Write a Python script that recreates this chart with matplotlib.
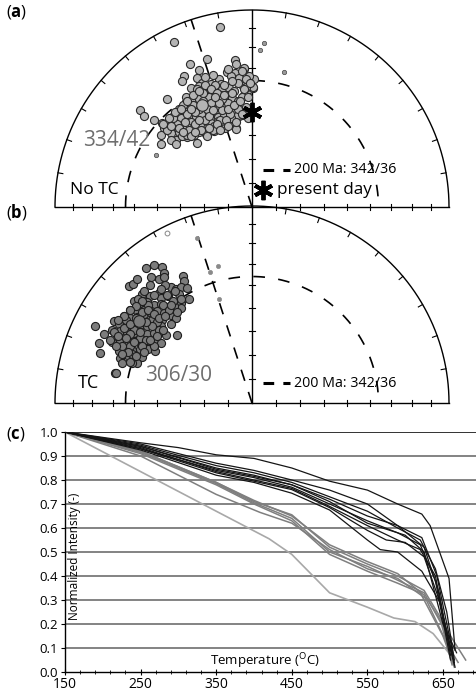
import numpy as np
import matplotlib
matplotlib.use("Agg")
import matplotlib.pyplot as plt

plt.rcParams['font.family'] = ['Open Sans', 'DejaVu Sans']
plt.rcParams['mathtext.fontset'] = 'custom'
plt.rcParams['mathtext.rm'] = 'Open Sans'
plt.rcParams['mathtext.bf'] = 'Open Sans:bold'

# (a) no tilt correction: directions in equal-area net coordinates (east, north), net radius 1
a_x = [-0.162, -0.396, -0.230, -0.316, -0.269, -0.087, -0.082, -0.043, -0.128, -0.087,
       -0.345, -0.354, -0.281, -0.167, -0.107, -0.065, -0.014, 0.012, -0.158, -0.209,
       -0.252, -0.311, -0.269, -0.226, -0.192, -0.150, -0.116, -0.090, -0.048, -0.014,
       0.003, -0.277, -0.243, -0.201, -0.158, -0.124, -0.430, -0.337, -0.303, -0.269,
       -0.235, -0.201, -0.167, -0.133, -0.099, -0.073, -0.345, -0.311, -0.209, -0.175,
       -0.141, -0.107, -0.082, -0.566, -0.549, -0.498, -0.371, -0.337, -0.303, -0.269,
       -0.235, -0.201, -0.158, -0.124, -0.090, -0.065, -0.396, -0.362, -0.320, -0.286,
       -0.243, -0.209, -0.175, -0.141, -0.107, -0.456, -0.422, -0.388, -0.345, -0.311,
       -0.277, -0.243, -0.209, -0.175, -0.141, -0.447, -0.413, -0.371, -0.328, -0.294,
       -0.260, -0.226, -0.192, -0.082, -0.464, -0.413, -0.371, -0.337, -0.303, -0.269,
       -0.235, -0.388, -0.328, -0.461, -0.413, -0.388, -0.354, -0.328, -0.294, -0.277,
       -0.231, -0.192, -0.138, -0.083, -0.044, -0.073, -0.107, -0.019, -0.026, 0.007,
       -0.014, -0.039, -0.031, -0.031, -0.042, -0.042,
       -0.22, -0.18, -0.26, -0.30, -0.15, -0.24, -0.32, -0.20, -0.36, -0.12,
       -0.28, -0.19, -0.05, -0.03, -0.02, -0.10, -0.14, -0.21, -0.27, -0.33,
       -0.38, -0.43, -0.16, -0.11, -0.07, -0.25, -0.35, -0.40, -0.29, -0.22,
       -0.45, -0.42, -0.39, -0.36, -0.33, -0.30, -0.27, -0.24, -0.21, -0.18,
       -0.15, -0.12, -0.09, -0.06, -0.04, -0.07, -0.10, -0.17, -0.23, -0.29,
       -0.34, -0.37, -0.41, -0.31, -0.26, -0.18, -0.13, -0.08, -0.05, -0.22,
       -0.27, -0.20, -0.25, -0.31, -0.14, -0.19, -0.35, -0.29, -0.23, -0.16,
       -0.12, -0.02, -0.01, -0.05, -0.12, -0.20, -0.24]
a_y = [0.912, 0.838, 0.753, 0.724, 0.696, 0.747, 0.724, 0.702, 0.685, 0.682,
       0.665, 0.639, 0.656, 0.648, 0.665, 0.656, 0.648, 0.651, 0.622, 0.622,
       0.631, 0.605, 0.614, 0.605, 0.597, 0.597, 0.605, 0.588, 0.614, 0.597,
       0.605, 0.580, 0.577, 0.580, 0.571, 0.571, 0.546, 0.560, 0.546, 0.549,
       0.537, 0.546, 0.537, 0.546, 0.554, 0.537, 0.520, 0.515, 0.515, 0.515,
       0.512, 0.509, 0.509, 0.491, 0.461, 0.444, 0.498, 0.491, 0.486, 0.486,
       0.486, 0.478, 0.481, 0.486, 0.478, 0.461, 0.469, 0.464, 0.461, 0.457,
       0.461, 0.452, 0.457, 0.461, 0.452, 0.427, 0.435, 0.435, 0.435, 0.430,
       0.427, 0.435, 0.427, 0.435, 0.423, 0.401, 0.406, 0.410, 0.406, 0.401,
       0.413, 0.401, 0.410, 0.401, 0.367, 0.376, 0.379, 0.376, 0.367, 0.379,
       0.372, 0.342, 0.355, 0.320, 0.342, 0.321, 0.359, 0.367, 0.367, 0.325,
       0.381, 0.384, 0.401, 0.396, 0.469, 0.469, 0.452, 0.648, 0.611, 0.611,
       0.665, 0.704, 0.648, 0.611, 0.571, 0.474,
       0.56, 0.50, 0.47, 0.52, 0.49, 0.44, 0.39, 0.39, 0.45, 0.53,
       0.60, 0.62, 0.56, 0.51, 0.45, 0.58, 0.62, 0.53, 0.50, 0.47,
       0.42, 0.39, 0.44, 0.47, 0.50, 0.58, 0.52, 0.45, 0.42, 0.40,
       0.42, 0.45, 0.48, 0.50, 0.54, 0.57, 0.59, 0.62, 0.60, 0.58,
       0.55, 0.50, 0.52, 0.54, 0.60, 0.63, 0.64, 0.53, 0.50, 0.48,
       0.43, 0.40, 0.41, 0.36, 0.39, 0.42, 0.44, 0.43, 0.47, 0.46,
       0.44, 0.49, 0.54, 0.50, 0.57, 0.56, 0.38, 0.38, 0.36, 0.39,
       0.41, 0.56, 0.63, 0.69, 0.70, 0.67, 0.66]
a_small_x = [0.060, 0.041, 0.162, -0.485]
a_small_y = [0.832, 0.798, 0.687, 0.265]

# (b) tilt corrected
b_x = [-0.536, -0.498, -0.456, -0.447, -0.515, -0.473, -0.447, -0.626, -0.604, -0.583,
       -0.349, -0.345, -0.413, -0.388, -0.362, -0.332, -0.558, -0.519, -0.473, -0.464,
       -0.427, -0.371, -0.320, -0.362, -0.362, -0.600, -0.566, -0.532, -0.498, -0.464,
       -0.430, -0.396, -0.617, -0.583, -0.549, -0.515, -0.481, -0.447, -0.413, -0.388,
       -0.651, -0.617, -0.583, -0.558, -0.524, -0.490, -0.456, -0.702, -0.676, -0.634,
       -0.600, -0.566, -0.532, -0.498, -0.464, -0.796, -0.711, -0.668, -0.634, -0.600,
       -0.566, -0.532, -0.498, -0.439, -0.379, -0.753, -0.779, -0.711, -0.668, -0.634,
       -0.592, -0.558, -0.524, -0.481, -0.464, -0.770, -0.677, -0.643, -0.609, -0.566,
       -0.529, -0.490, -0.668, -0.626, -0.592, -0.558, -0.660, -0.583, -0.694, -0.617,
       -0.689, -0.609,
       -0.55, -0.51, -0.60, -0.53, -0.45, -0.57, -0.50, -0.62, -0.48, -0.42,
       -0.40, -0.55, -0.44, -0.64, -0.66, -0.58, -0.52, -0.47, -0.61, -0.54,
       -0.70, -0.68, -0.65, -0.62, -0.59, -0.56, -0.53, -0.50, -0.47, -0.44,
       -0.41, -0.43, -0.46, -0.50, -0.52, -0.56, -0.59, -0.62, -0.65, -0.68,
       -0.72, -0.69, -0.64, -0.60, -0.56, -0.52, -0.48, -0.45, -0.41, -0.38,
       -0.36, -0.39, -0.63, -0.59, -0.55, -0.66, -0.62, -0.57, -0.51, -0.54]
b_y = [0.687, 0.701, 0.690, 0.662, 0.641, 0.628, 0.639, 0.594, 0.605, 0.628,
       0.645, 0.619, 0.588, 0.577, 0.588, 0.585, 0.554, 0.543, 0.560, 0.534,
       0.543, 0.554, 0.526, 0.509, 0.483, 0.517, 0.509, 0.514, 0.500, 0.503,
       0.486, 0.491, 0.474, 0.469, 0.474, 0.466, 0.466, 0.457, 0.449, 0.432,
       0.440, 0.432, 0.435, 0.423, 0.429, 0.432, 0.423, 0.415, 0.401, 0.398,
       0.401, 0.398, 0.389, 0.395, 0.389, 0.389, 0.372, 0.364, 0.361, 0.355,
       0.361, 0.350, 0.355, 0.347, 0.344, 0.350, 0.304, 0.310, 0.321, 0.313,
       0.316, 0.310, 0.313, 0.316, 0.304, 0.253, 0.265, 0.276, 0.270, 0.276,
       0.276, 0.265, 0.228, 0.236, 0.241, 0.236, 0.202, 0.202, 0.151, 0.291,
       0.152, 0.202,
       0.45, 0.42, 0.37, 0.50, 0.50, 0.33, 0.29, 0.35, 0.41, 0.47,
       0.52, 0.57, 0.60, 0.42, 0.29, 0.53, 0.46, 0.37, 0.25, 0.32,
       0.36, 0.34, 0.38, 0.40, 0.43, 0.46, 0.47, 0.45, 0.43, 0.44,
       0.50, 0.55, 0.58, 0.55, 0.60, 0.52, 0.49, 0.47, 0.44, 0.42,
       0.32, 0.29, 0.33, 0.31, 0.29, 0.32, 0.34, 0.37, 0.40, 0.46,
       0.53, 0.57, 0.26, 0.24, 0.26, 0.25, 0.21, 0.36, 0.39, 0.41]
b_small_x = [-0.277, -0.175, -0.214, -0.167]
b_small_y = [0.840, 0.695, 0.665, 0.529]
b_open_x = [-0.430]
b_open_y = [0.862]

means = {'a': (334, 42), 'b': (306, 30)}
ref_dec, ref_inc = 342, 36      # 200 Ma reference
now_dec, now_inc = 0, 50        # present day field

# (c) normalized intensity vs temperature
black_T = [[150, 250, 300, 350, 400, 450, 500, 550, 590, 622, 633, 658, 666],
           [150, 250, 350, 400, 450, 500, 550, 590, 622, 642, 663],
           [150, 250, 350, 400, 450, 500, 550, 590, 620, 640, 655, 665],
           [150, 250, 350, 400, 450, 500, 550, 590, 625, 645, 660],
           [150, 250, 350, 400, 450, 500, 550, 590, 620, 640, 660],
           [150, 250, 350, 400, 450, 500, 550, 590, 620, 640, 655, 665],
           [150, 250, 350, 400, 450, 500, 550, 575, 600, 625, 645, 665],
           [150, 250, 350, 400, 450, 500, 550, 567, 590, 622, 646, 666],
           [150, 250, 350, 400, 450, 500, 550, 600, 625, 650, 668]]
black_v = [[1.0, 0.955, 0.935, 0.905, 0.89, 0.85, 0.795, 0.758, 0.70, 0.658, 0.61, 0.39, 0.09],
           [1.0, 0.95, 0.87, 0.84, 0.80, 0.758, 0.70, 0.61, 0.56, 0.40, 0.08],
           [1.0, 0.945, 0.86, 0.83, 0.79, 0.73, 0.67, 0.60, 0.55, 0.43, 0.25, 0.05],
           [1.0, 0.94, 0.85, 0.82, 0.78, 0.72, 0.65, 0.61, 0.52, 0.33, 0.07],
           [1.0, 0.93, 0.84, 0.81, 0.77, 0.70, 0.63, 0.58, 0.53, 0.38, 0.05],
           [1.0, 0.935, 0.835, 0.80, 0.765, 0.69, 0.61, 0.55, 0.51, 0.40, 0.15, 0.03],
           [1.0, 0.93, 0.83, 0.795, 0.76, 0.685, 0.59, 0.55, 0.54, 0.48, 0.30, 0.04],
           [1.0, 0.925, 0.82, 0.79, 0.745, 0.675, 0.55, 0.51, 0.50, 0.42, 0.29, 0.02],
           [1.0, 0.94, 0.845, 0.815, 0.78, 0.71, 0.62, 0.57, 0.50, 0.20, 0.08]]
grey_T = [[150, 250, 350, 400, 450, 500, 550, 590, 625, 648, 660],
          [150, 250, 350, 400, 450, 500, 550, 585, 625, 648, 662],
          [150, 250, 350, 400, 450, 500, 550, 590, 620, 650, 665],
          [150, 250, 350, 400, 450, 500, 550, 590, 625, 655, 670],
          [150, 250, 350, 408, 450, 500, 550, 590, 630, 660, 680]]
grey_v = [[1.0, 0.92, 0.79, 0.71, 0.655, 0.52, 0.45, 0.40, 0.34, 0.22, 0.06],
          [1.0, 0.915, 0.785, 0.705, 0.64, 0.50, 0.44, 0.39, 0.33, 0.20, 0.03],
          [1.0, 0.91, 0.78, 0.70, 0.63, 0.49, 0.42, 0.37, 0.33, 0.15, 0.02],
          [1.0, 0.92, 0.79, 0.715, 0.65, 0.53, 0.46, 0.41, 0.32, 0.12, 0.04],
          [1.0, 0.90, 0.74, 0.665, 0.62, 0.51, 0.43, 0.39, 0.30, 0.15, 0.05]]
light_T = [150, 250, 350, 420, 450, 500, 550, 585, 613, 637, 655, 665]
light_v = [1.0, 0.835, 0.67, 0.555, 0.49, 0.33, 0.27, 0.225, 0.21, 0.16, 0.09, 0.05]


def equal_area(dec, inc):
    r = np.sqrt(2) * np.sin(np.radians(90 - np.asarray(inc, float)) / 2)
    d = np.radians(dec)
    return r * np.sin(d), r * np.cos(d)


def draw_net(ax):
    t = np.linspace(0, np.pi, 300)
    ax.plot(np.cos(t), np.sin(t), color='k', lw=1, clip_on=False)
    ax.plot([-1, 1], [0, 0], color='k', lw=1, clip_on=False)
    ax.plot([0, 0], [0, 1], color='k', lw=1, clip_on=False)
    tl = 0.016
    for r in equal_area(0, np.arange(10, 90, 10))[1]:
        ax.plot([r, r], [-tl, tl], color='k', lw=0.8, clip_on=False)
        ax.plot([-r, -r], [-tl, tl], color='k', lw=0.8, clip_on=False)
        ax.plot([-tl, tl], [r, r], color='k', lw=0.8, clip_on=False)
    for d in range(-80, 90, 10):
        if d == 0:
            continue
        s, c = np.sin(np.radians(d)), np.cos(np.radians(d))
        ax.plot([s, 0.975 * s], [c, 0.975 * c], color='k', lw=0.8, clip_on=False)
    # 200 Ma reference: inclination circle and declination line
    dd = np.linspace(-90, 90, 300)
    cx, cy = equal_area(dd, ref_inc)
    ax.plot(cx, cy, color='k', lw=1.2, ls=(0, (7, 8)), clip_on=False)
    ex, ey = equal_area(ref_dec, 0)
    ax.plot([0, ex], [0, ey], color='k', lw=1.2, ls=(0, (7, 7)), clip_on=False)
    ax.set_xlim(-1, 1)
    ax.set_ylim(0, 1)
    ax.set_aspect('auto')
    ax.axis('off')


fig = plt.figure(figsize=(4.77, 6.92), dpi=100)
W, H = 477, 692
R = 197

ax_a = fig.add_axes([(252 - R) / W, (H - 207) / H, 2 * R / W, R / H])
draw_net(ax_a)
ax_a.scatter(a_x, a_y, s=34, c='#b4b4b4', edgecolors='#2a2a2a', linewidths=0.8, zorder=3)
ax_a.scatter(a_small_x, a_small_y, s=10, c='#9a9a9a', edgecolors='#444444', linewidths=0.5, zorder=3)
mx, my = equal_area(*means['a'])
ax_a.scatter([mx], [my], s=70, c='#b4b4b4', edgecolors='#2a2a2a', linewidths=0.8, zorder=4)
px, py = equal_area(now_dec, now_inc)
ax_a.plot([px], [py], marker=(6, 2, 0), ms=14, mew=2.8, color='k', zorder=5)
ax_a.text(-0.86, 0.34, '334/42', fontsize=15, color='#6e6e6e', va='center', zorder=6)
ax_a.text(-0.925, 0.086, 'No TC', fontsize=12.5, color='k', va='center')
ax_a.plot([0.056, 0.193], [0.188, 0.188], color='k', lw=2.2, ls=(0, (3.5, 3)), clip_on=False)
ax_a.text(0.215, 0.188, '200 Ma: 342/36', fontsize=10.3, va='center')
ax_a.plot([0.056], [0.086], marker=(6, 2, 0), ms=14, mew=2.8, color='k', clip_on=False)
ax_a.text(0.128, 0.086, 'present day', fontsize=12.3, va='center')

ax_b = fig.add_axes([(252 - R) / W, (H - 403) / H, 2 * R / W, R / H])
draw_net(ax_b)
ax_b.scatter(b_x, b_y, s=34, c='#7c7c7c', edgecolors='#1e1e1e', linewidths=0.8, zorder=3)
ax_b.scatter(b_small_x, b_small_y, s=9, c='#8a8a8a', edgecolors='#8a8a8a', linewidths=0.5, zorder=3)
ax_b.scatter(b_open_x, b_open_y, s=12, c='white', edgecolors='#888888', linewidths=0.7, zorder=3)
mx, my = equal_area(*means['b'])
ax_b.scatter([mx], [my], s=70, c='#7c7c7c', edgecolors='#1e1e1e', linewidths=0.8, zorder=4)
ax_b.text(-0.545, 0.142, '306/30', fontsize=15, color='#6e6e6e', va='center', zorder=6)
ax_b.text(-0.885, 0.10, 'TC', fontsize=13, color='k', va='center')
ax_b.plot([0.056, 0.193], [0.10, 0.10], color='k', lw=2.2, ls=(0, (3.5, 3)), clip_on=False)
ax_b.text(0.215, 0.10, '200 Ma: 342/36', fontsize=10.3, va='center')

# (c) intensity curves
ax_c = fig.add_axes([65 / W, 20 / H, (W - 65) / W, 240 / H])
for yv in np.arange(0.1, 1.0, 0.1):
    ax_c.axhline(yv, color='#7a7a7a', lw=1.3, zorder=1)
ax_c.axhline(1.0, color='#222222', lw=1.3, zorder=1)
ax_c.plot(light_T, light_v, color='#a8a8a8', lw=1.2, zorder=2)
for T, v in zip(grey_T, grey_v):
    ax_c.plot(T, v, color='#7f7f7f', lw=1.1, zorder=3)
for T, v in zip(black_T, black_v):
    ax_c.plot(T, v, color='#151515', lw=0.9, zorder=4)
ax_c.set_xlim(150, 695)
ax_c.set_ylim(0, 1.0)
ax_c.set_xticks(np.arange(150, 651, 100))
ax_c.set_xticks(np.arange(150, 695, 20), minor=True)
ax_c.set_yticks(np.arange(0, 1.01, 0.1))
ax_c.set_yticklabels([f'{y:.1f}' for y in np.arange(0, 1.01, 0.1)])
ax_c.tick_params(axis='x', which='major', direction='inout', length=5, width=0.8, labelsize=10, pad=1)
ax_c.tick_params(axis='x', which='minor', direction='inout', length=3, width=0.6)
ax_c.tick_params(axis='y', direction='out', length=3, width=0.8, labelsize=9.5, pad=2)
for s in ['top', 'right']:
    ax_c.spines[s].set_visible(False)
ax_c.spines['left'].set_linewidth(1.0)
ax_c.spines['bottom'].set_linewidth(1.0)
ax_c.text(0.024, 0.48, 'Normalized Intensity (-)', transform=ax_c.transAxes,
          rotation=90, fontsize=8.5, va='center', ha='center')
ax_c.text(0.485, 0.045, r'Temperature ($^{\mathrm{O}}$C)', transform=ax_c.transAxes,
          fontsize=9.5, va='center', ha='center')

for lab, ypx in [('a', 12), ('b', 212), ('c', 434)]:
    fig.text(6 / W, 1 - ypx / H, r'($\mathbf{' + lab + r'}$)', fontsize=12, va='center')

fig.savefig('out.png', dpi=100)
